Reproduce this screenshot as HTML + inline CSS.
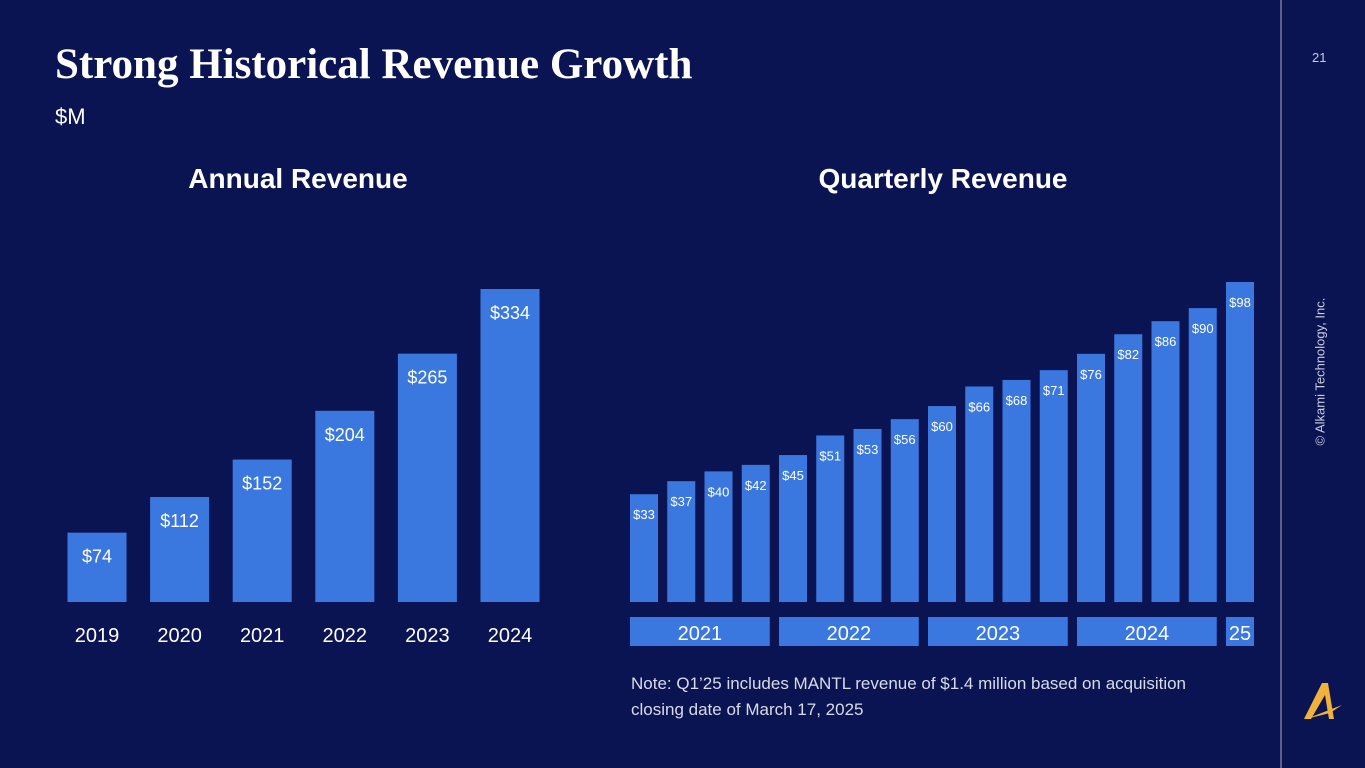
<!DOCTYPE html>
<html><head><meta charset="utf-8"><style>
body{margin:0;width:1365px;height:768px;background:#0b1452;overflow:hidden;position:relative;font-family:"Liberation Sans",sans-serif;color:#fff}
.t{position:absolute;white-space:nowrap}
</style></head><body>
<div class="t" style="left:55px;top:40px;font-family:'Liberation Serif',serif;font-weight:bold;font-size:43px">Strong Historical Revenue Growth</div>
<div class="t" style="left:55px;top:104px;font-size:22px">$M</div>
<div class="t" style="left:1312px;top:50px;font-size:13px;color:#c8cce0">21</div>
<div style="position:absolute;left:1280px;top:0;width:2px;height:768px;background:#5a6288"></div>
<div class="t" style="left:1250px;top:368px;font-size:13px;color:#c8cce0;transform:rotate(-90deg);width:140px;text-align:center">© Alkami Technology, Inc.</div>
<svg style="position:absolute;left:1300px;top:675px" width="45" height="50" viewBox="0 0 45 50">
<path d="M4 44 L22 8 L28 8 L34 44 L29 44 L25 20 L11 44 Z" fill="#f0b23a"/><path d="M6 44 L42 30 L30 38 Z" fill="#f0b23a"/></svg>
<div class="t" style="left:631px;top:671px;font-size:17px;line-height:26px;color:#d8dbe8">Note: Q1’25 includes MANTL revenue of $1.4 million based on acquisition<br>closing date of March 17, 2025</div>
<svg id="c" width="1365" height="768" style="position:absolute;left:0;top:0"></svg>
<script>
const years=["2019","2020","2021","2022","2023","2024"];
const annual=[74,112,152,204,265,334];
const quarterly=[33,37,40,42,45,51,53,56,60,66,68,71,76,82,86,90,98];
const qGroups=["2021","2022","2023","2024","25"];
const qGroupSizes=[4,4,4,4,1];
const NS="http://www.w3.org/2000/svg",svg=document.getElementById('c');
function el(t,a,p){const e=document.createElementNS(NS,t);for(const k in a)e.setAttribute(k,a[k]);(p||svg).appendChild(e);return e;}
const base=602,blue="#3a78e0";
function txt(x,y,s,sz,w,name){const t=el('text',{x:x,y:y,'font-size':sz,'font-weight':w||'normal',fill:'#fff','text-anchor':'middle','font-family':'Liberation Sans, sans-serif'});t.textContent=s;

return t;}
txt(298,188,"Annual Revenue",28,"bold","annual-title");
txt(943,188,"Quarterly Revenue",28,"bold","quarterly-title");
const ay=v=>base-v*313/334, ax=i=>97+i*82.6;
annual.forEach((v,i)=>{const r=el('rect',{x:ax(i)-29.5,y:ay(v),width:59,height:base-ay(v),fill:blue});


txt(ax(i),ay(v)+30,"$"+v,18,"normal","annual-value-"+years[i]);
txt(ax(i),642,years[i],20,"normal","year-label-"+years[i]);});
const qy=v=>base-v*320/98, qx=i=>644+i*37.25;
quarterly.forEach((v,i)=>{const r=el('rect',{x:qx(i)-14,y:qy(v),width:28,height:base-qy(v),fill:blue});


txt(qx(i),qy(v)+25,"$"+v,13,"normal","quarter-value-"+i);});
let s=0;qGroups.forEach((g,k)=>{const n=qGroupSizes[k];const x0=qx(s)-14,x1=qx(s+n-1)+14;
const r=el('rect',{x:x0,y:617,width:x1-x0,height:29,fill:blue});


txt((x0+x1)/2,640,g,20,"normal","quarter-year-label-"+g);s+=n;});
</script>
</body></html>
